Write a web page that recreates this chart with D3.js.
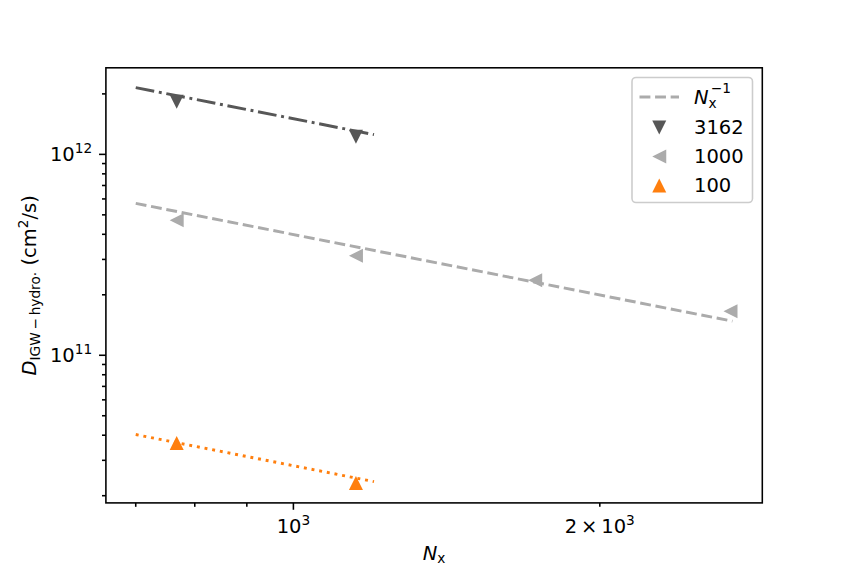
<!DOCTYPE html>
<html>
<head>
<meta charset="utf-8">
<script src="https://cdn.jsdelivr.net/npm/d3@7"></script>
<style>
  html, body { margin: 0; padding: 0; background: #fff; }
  svg text { font-family: "DejaVu Sans", sans-serif; fill: #000; }
</style>
</head>
<body>
<svg id="chart" width="847" height="565"></svg>
<script>
// ---- data ----
const nxAll   = [768, 1152, 1728, 2688];
const nx3162  = [768, 1152];
const d3162   = [1.83e12, 1.225e12];
const nx1000  = [768, 1152, 1728, 2688];
const d1000   = [4.70e11, 3.13e11, 2.36e11, 1.655e11];
const nx100   = [768, 1152];
const d100    = [3.66e10, 2.31e10];
// N_x^-1 guide lines: endpoints [Nx, D]
const fit3162 = [[700, 2.15e12], [1200, 1.254e12]];
const fit1000 = [[700, 5.70e11], [2700, 1.478e11]];
const fit100  = [[700, 4.03e10], [1200, 2.35e10]];
const xMajorTicks = [1000];
const xMinorTicks = [700, 800, 900, 2000];
const xTickLabels = [[1000, "10", "3", ""], [2000, "10", "3", "2\u2009\u00d7\u200910"]];
const yMajorTicks = [1e11, 1e12];
const yTickLabels = [[1e11, "11"], [1e12, "12"]];
const legendLabels = ["3162", "1000", "100"];

// ---- layout ----
const W = 847, H = 565;
const L = 105.9, R = 762.3, T = 67.8, B = 502.9;
const pt = 1.96;
const svg = d3.select("#chart");

// domain: matplotlib-style 5% margins in log space
const allX = [...nxAll, ...fit1000.map(d => d[0]), ...fit3162.map(d => d[0]), ...fit100.map(d => d[0])];
const allY = [...d3162, ...d1000, ...d100, ...fit3162.map(d => d[1]), ...fit1000.map(d => d[1]), ...fit100.map(d => d[1])];
function logDomain(arr) {
  const lo = Math.log10(d3.min(arr)), hi = Math.log10(d3.max(arr));
  const m = (hi - lo) * 0.05;
  return [Math.pow(10, lo - m), Math.pow(10, hi + m)];
}
const x = d3.scaleLog().domain(logDomain(allX)).range([L, R]);
const y = d3.scaleLog().domain(logDomain(allY)).range([B, T]);

const cDark = "#575757", cLight = "#ababab", cOrange = "#ff7f0e";
const lw = 1.5 * pt;

// clip
svg.append("clipPath").attr("id", "clip").append("rect")
  .attr("x", L).attr("y", T).attr("width", R - L).attr("height", B - T);

const plot = svg.append("g").attr("clip-path", "url(#clip)");
const line = d3.line().x(d => x(d[0])).y(d => y(d[1]));

function fitLine(data, color, dash) {
  plot.append("path").datum(data).attr("d", line)
    .attr("fill", "none").attr("stroke", color).attr("stroke-width", lw)
    .attr("stroke-dasharray", dash).attr("stroke-linecap", "butt");
}
fitLine(fit1000, cLight, [3.7 * lw, 1.6 * lw].join(","));
fitLine(fit3162, cDark, [6.4 * lw, 1.6 * lw, 1 * lw, 1.6 * lw].join(","));
fitLine(fit100, cOrange, [1 * lw, 1.65 * lw].join(","));

const s = 7; // half marker size
const triDown = `M0,${s}L${-s},${-s}L${s},${-s}Z`;
const triLeft = `M${-s},0L${s},${-s}L${s},${s}Z`;
const triUp = `M0,${-s}L${-s},${s}L${s},${s}Z`;

function markers(xs, ys, path, color) {
  plot.selectAll(null).data(xs.map((v, i) => [v, ys[i]])).enter().append("path")
    .attr("d", path).attr("fill", color)
    .attr("transform", d => `translate(${x(d[0])},${y(d[1])})`);
}
markers(nx3162, d3162, triDown, cDark);
markers(nx1000, d1000, triLeft, cLight);
markers(nx100, d100, triUp, cOrange);

// ---- axes ----
const axW = 0.8 * pt;
const majorLen = 3.5 * pt, minorLen = 2 * pt, pad = 3.5 * pt;
const fs = 19.5, fsSmall = 13.7;

const yMinorTicks = [];
for (let e = 10; e <= 12; e++) for (let k = 2; k <= 9; k++) {
  const v = k * Math.pow(10, e);
  if (v >= y.domain()[0] && v <= y.domain()[1]) yMinorTicks.push(v);
}

const ticks = svg.append("g").attr("stroke", "#000").attr("stroke-width", axW);
xMajorTicks.forEach(v => ticks.append("line").attr("x1", x(v)).attr("x2", x(v)).attr("y1", B).attr("y2", B + majorLen));
xMinorTicks.forEach(v => ticks.append("line").attr("x1", x(v)).attr("x2", x(v)).attr("y1", B).attr("y2", B + minorLen));
yMajorTicks.forEach(v => ticks.append("line").attr("y1", y(v)).attr("y2", y(v)).attr("x1", L).attr("x2", L - majorLen));
yMinorTicks.forEach(v => ticks.append("line").attr("y1", y(v)).attr("y2", y(v)).attr("x1", L).attr("x2", L - minorLen));

// frame
svg.append("rect").attr("x", L).attr("y", T).attr("width", R - L).attr("height", B - T)
  .attr("fill", "none").attr("stroke", "#000").attr("stroke-width", axW);

// x tick labels
xTickLabels.forEach(([v, base, sup, pre]) => {
  const t = svg.append("text").attr("x", x(v)).attr("y", 533.3)
    .attr("text-anchor", "middle").attr("font-size", fs);
  t.append("tspan").text(pre ? pre : base);
  t.append("tspan").attr("font-size", fsSmall).attr("dy", -8).text(sup);
});
// y tick labels
yTickLabels.forEach(([v, sup]) => {
  const t = svg.append("text").attr("x", L - majorLen - pad).attr("y", y(v) + 6.8)
    .attr("text-anchor", "end").attr("font-size", fs);
  t.append("tspan").text("10");
  t.append("tspan").attr("font-size", fsSmall).attr("dy", -8).text(sup);
});

// x label
const xl = svg.append("text").attr("x", (L + R) / 2).attr("y", 560)
  .attr("text-anchor", "middle").attr("font-size", fs);
xl.append("tspan").attr("font-style", "italic").text("N");
xl.append("tspan").attr("font-size", fsSmall).attr("dy", 3).text("x");

// y label
const yl = svg.append("text").attr("transform", `translate(36,${(T + B) / 2}) rotate(-90)`)
  .attr("text-anchor", "middle").attr("font-size", fs);
yl.append("tspan").attr("font-style", "italic").text("D");
yl.append("tspan").attr("font-size", fsSmall).attr("dy", 4).text("IGW\u2009\u2212\u2009hydro\u00b7");
yl.append("tspan").attr("dy", -4).text(" (cm");
yl.append("tspan").attr("font-size", fsSmall).attr("dy", -8).text("2");
yl.append("tspan").attr("dy", 8).text("/s)");

// ---- legend ----
const lg = svg.append("g");
lg.append("rect").attr("x", 632).attr("y", 77.5).attr("width", 120.5).attr("height", 125)
  .attr("rx", 4).attr("fill", "#fff").attr("fill-opacity", 0.8)
  .attr("stroke", "#cccccc").attr("stroke-width", axW);
const hx0 = 639.5, hx1 = 679, tx = 694;
const rows = [97, 127.5, 156.5, 185.5];
lg.append("line").attr("x1", hx0).attr("x2", hx1).attr("y1", rows[0]).attr("y2", rows[0])
  .attr("stroke", cLight).attr("stroke-width", lw)
  .attr("stroke-dasharray", [3.7 * lw, 1.6 * lw].join(","));
const l0 = lg.append("text").attr("x", tx).attr("y", rows[0] + 6.8).attr("font-size", fs);
l0.append("tspan").attr("font-style", "italic").text("N");
l0.append("tspan").attr("font-size", fsSmall).attr("dy", 4.5).text("x");
l0.append("tspan").attr("font-size", fsSmall).attr("dx", -6).attr("dy", -15.5).text("\u22121");

const legMarks = [[triDown, cDark], [triLeft, cLight], [triUp, cOrange]];
legendLabels.forEach((lab, i) => {
  const yy = rows[i + 1];
  lg.append("path").attr("d", legMarks[i][0]).attr("fill", legMarks[i][1])
    .attr("transform", `translate(${(hx0 + hx1) / 2},${yy})`);
  lg.append("text").attr("x", tx).attr("y", yy + 6.8).attr("font-size", fs).text(lab);
});
</script>
</body>
</html>
